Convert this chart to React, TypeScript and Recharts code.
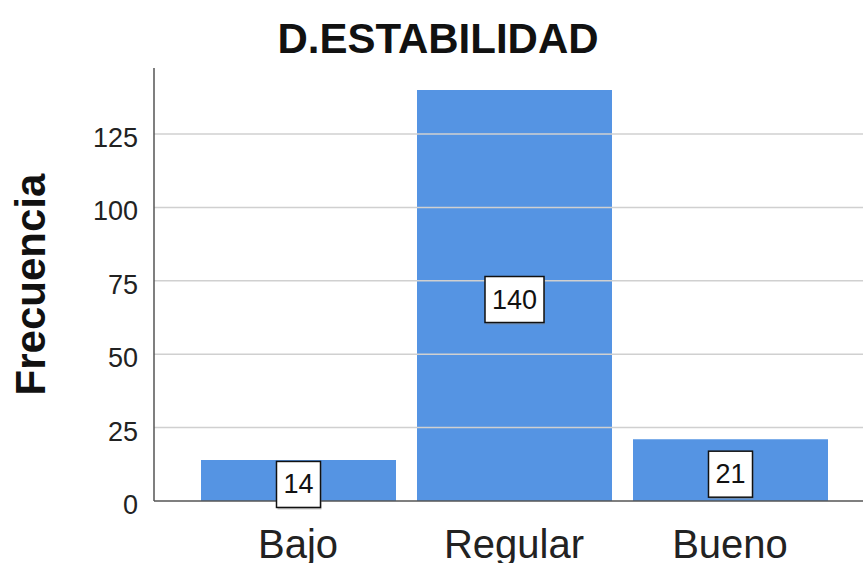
import React from "react";
import { BarChart, Bar, XAxis, YAxis, LabelList, Label, ReferenceLine } from "recharts";

const categories = ["Bajo", "Regular", "Bueno"];
const frecuencias = [14, 140, 21];
const yTicks = [0, 25, 50, 75, 100, 125];

const data = categories.map((nivel, i) => ({ nivel, frecuencia: frecuencias[i] }));

const FONT = '"Liberation Sans", Arial, sans-serif';
const BLUE = "#5594e3";

function ValueBox(props: any) {
  const { x, y, width, height, value } = props;
  const text = String(value);
  const w = text.length * 15 + 14;
  const h = 46;
  const cx = x + width / 2;
  const cy = y + height / 2 + 4;
  return (
    <g>
      <rect x={cx - w / 2 + 1} y={cy - h / 2 + 2} width={w} height={h} fill="#888" opacity={0.5} />
      <rect x={cx - w / 2} y={cy - h / 2} width={w} height={h} fill="#fff" stroke="#111" strokeWidth={1.5} />
      <text x={cx} y={cy} textAnchor="middle" dominantBaseline="central" fontSize={27} fill="#111" fontFamily={FONT}>
        {text}
      </text>
    </g>
  );
}

function YTick(props: any) {
  const { x, y, payload } = props;
  return (
    <text x={x} y={y + 4} textAnchor="end" dominantBaseline="central" fontSize={27} fill="#222" fontFamily={FONT}>
      {payload.value}
    </text>
  );
}

function XTick(props: any) {
  const { x, y, payload } = props;
  return (
    <text x={x} y={y + 57} textAnchor="middle" fontSize={40} fill="#222" fontFamily={FONT}>
      {payload.value}
    </text>
  );
}

export default function App() {
  return (
    <div style={{ position: "absolute", left: 0, top: 0, width: 863, height: 563, background: "#fff" }}>
      <BarChart width={863} height={563} data={data} margin={{ top: 68, right: 0, bottom: 0, left: 0 }}>
        {yTicks.slice(1).map((t) => (
          <ReferenceLine key={t} y={t} stroke="#d0d0d0" strokeWidth={1.5} />
        ))}
        <XAxis
          dataKey="nivel"
          height={62}
          tickLine={false}
          tickSize={0}
          tickMargin={0}
          axisLine={{ stroke: "#555", strokeWidth: 1.5 }}
          padding={{ left: 36, right: 25 }}
          tick={<XTick />}
          interval={0}
        />
        <YAxis
          width={154}
          domain={[0, 147.5]}
          ticks={yTicks}
          interval={0}
          tickLine={false}
          tickSize={0}
          tickMargin={16}
          axisLine={{ stroke: "#555", strokeWidth: 1.5 }}
          tick={<YTick />}
        >
          <Label
            content={() => (
              <text
                x={45}
                y={284.5}
                transform="rotate(-90 45 284.5)"
                textAnchor="middle"
                fontSize={42}
                fontWeight="bold"
                fill="#111"
                fontFamily={FONT}
              >
                Frecuencia
              </text>
            )}
          />
        </YAxis>
        <Bar dataKey="frecuencia" fill={BLUE} barSize={195} isAnimationActive={false}>
          <LabelList dataKey="frecuencia" content={<ValueBox />} />
        </Bar>
      </BarChart>
      <svg width={863} height={70} style={{ position: "absolute", left: 0, top: 0, pointerEvents: "none" }}>
        <text x={438} y={53} textAnchor="middle" fontSize={42} fontWeight="bold" fill="#111" fontFamily={FONT}>
          D.ESTABILIDAD
        </text>
      </svg>
    </div>
  );
}
